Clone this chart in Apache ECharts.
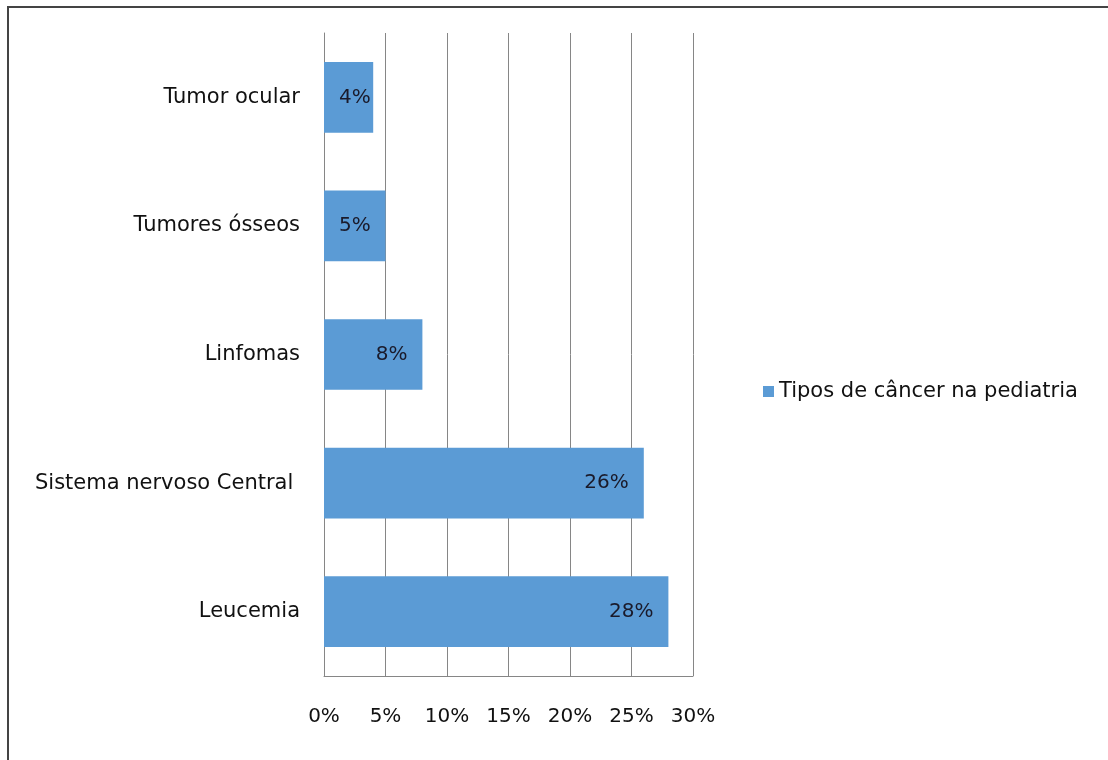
<!DOCTYPE html>
<html>
<head>
<meta charset="utf-8">
<script src="https://cdn.jsdelivr.net/npm/echarts@6/dist/echarts.min.js"></script>
<style>
html,body{margin:0;padding:0;background:#fff;}
#frame{position:absolute;left:7px;top:6px;width:1200px;height:900px;border-left:2px solid #444;border-top:2px solid #444;}
#chart{position:absolute;left:0;top:0;width:1108px;height:760px;}
</style>
</head>
<body>
<div id="frame"></div>
<div id="chart"></div>
<script>
const categories = ['Leucemia', 'Sistema nervoso Central ', 'Linfomas', 'Tumores ósseos', 'Tumor ocular'];
const values = [28, 26, 8, 5, 4];
const seriesName = 'Tipos de câncer na pediatria';
const axisMin = 0, axisMax = 30, axisStep = 5;

const font = 'DejaVu Sans';
const fsNum = 20;
const fsText = 21;
const gridLeft = 324, gridRight = 415;
const plotW = 1108 - gridLeft - gridRight;

// label placement like Excel "inside end": pad 15px from end, but keep ~15px from bar start
const ctx = document.createElement('canvas').getContext('2d');
ctx.font = fsNum + 'px "' + font + '"';
const seriesData = values.map(v => {
  const barPx = (v - axisMin) / (axisMax - axisMin) * plotW;
  const lw = ctx.measureText(v + '%').width;
  const d = Math.max(1, Math.min(15, barPx - lw - 15));
  return { value: v, label: { distance: d } };
});

const chart = echarts.init(document.getElementById('chart'));
chart.setOption({
  animation: false,
  textStyle: { fontFamily: font },
  grid: { left: gridLeft, right: gridRight, top: 33, bottom: 84, containLabel: false },
  legend: {
    data: [seriesName],
    left: 758, top: 376,
    icon: 'rect', itemWidth: 11, itemHeight: 11, itemGap: 6,
    textStyle: { fontFamily: font, fontSize: fsText, color: '#111' }
  },
  xAxis: {
    type: 'value', min: axisMin, max: axisMax, interval: axisStep,
    axisLine: { show: true, lineStyle: { color: '#868686' } },
    axisTick: { show: false },
    splitLine: { show: true, lineStyle: { color: '#868686', width: 1 } },
    axisLabel: { formatter: v => v + '%', margin: 31, fontSize: fsNum, color: '#111', fontFamily: font }
  },
  yAxis: {
    type: 'category', data: categories,
    axisLine: { show: true, lineStyle: { color: '#868686' } },
    axisTick: { show: false },
    axisLabel: { margin: 24, fontSize: fsText, color: '#111', fontFamily: font }
  },
  series: [{
    name: seriesName, type: 'bar', data: seriesData,
    barCategoryGap: '45%',
    itemStyle: { color: '#5B9BD5' },
    label: { show: true, position: 'insideRight', formatter: p => p.value + '%', fontSize: fsNum, color: '#1a1a2a', fontFamily: font }
  }]
});
</script>
</body>
</html>
